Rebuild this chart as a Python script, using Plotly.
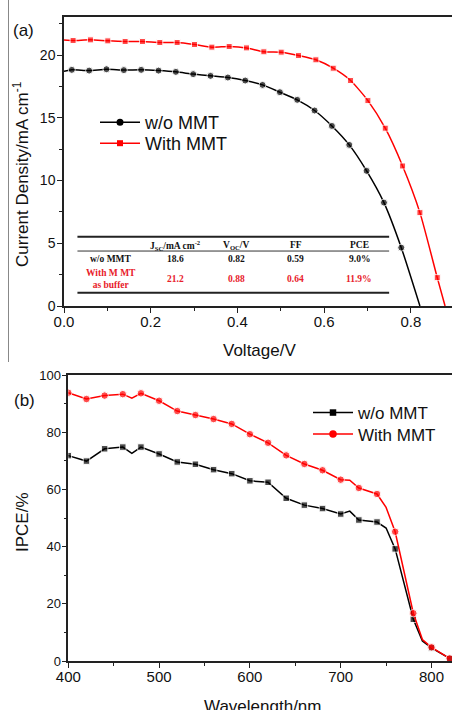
import plotly.graph_objects as go

W, H = 452, 710

# ---------------- data: panel (a) J-V ----------------
v_a_black = [0.000, 0.018, 0.058, 0.098, 0.138, 0.178, 0.218, 0.258, 0.298, 0.338, 0.378,
             0.418, 0.458, 0.498, 0.538, 0.578, 0.618, 0.658, 0.698, 0.738, 0.778, 0.821]
j_a_black = [18.70, 18.82, 18.76, 18.87, 18.80, 18.82, 18.76, 18.66, 18.48, 18.34, 18.21,
             17.97, 17.62, 17.04, 16.43, 15.58, 14.35, 12.84, 10.77, 8.24, 4.65, 0.00]
v_a_red = [0.000, 0.021, 0.061, 0.101, 0.141, 0.181, 0.221, 0.261, 0.301, 0.341, 0.381, 0.421,
           0.461, 0.501, 0.541, 0.581, 0.621, 0.661, 0.701, 0.741, 0.781, 0.821, 0.861, 0.879]
j_a_red = [21.20, 21.16, 21.21, 21.13, 21.08, 21.08, 21.00, 21.00, 20.84, 20.63, 20.68, 20.57,
           20.26, 20.23, 19.96, 19.62, 18.95, 17.97, 16.37, 14.17, 11.16, 7.44, 2.26, 0.00]

# table in panel (a)
tbl_header = ["J<sub>SC</sub>/mA cm<sup>-2</sup>", "V<sub>OC</sub>/V", "FF", "PCE"]
tbl_row1 = ["w/o MMT", "18.6", "0.82", "0.59", "9.0%"]
tbl_row2 = ["With M MT<br>as buffer", "21.2", "0.88", "0.64", "11.9%"]

# ---------------- data: panel (b) IPCE ----------------
wl_black = [400, 420, 440, 460, 470, 480, 500, 520, 540, 560, 580, 600, 620, 640, 660, 680,
            700, 710, 720, 740, 750, 760, 780, 790, 800, 820]
ipce_black = [71.8, 69.9, 74.2, 74.8, 72.6, 74.8, 72.4, 69.6, 68.8, 66.9, 65.5, 63.0, 62.5, 56.9,
              54.5, 53.3, 51.4, 52.4, 49.3, 48.6, 46.5, 39.2, 14.6, 7.0, 4.6, 0.9]
wl_red = [400, 420, 440, 460, 470, 480, 500, 520, 540, 560, 580, 600, 620, 640, 660, 680,
          700, 710, 720, 740, 750, 760, 780, 790, 800, 820]
ipce_red = [93.8, 91.6, 92.8, 93.3, 91.9, 93.6, 91.0, 87.4, 86.0, 84.6, 82.9, 79.3, 76.3, 71.9,
            68.9, 66.7, 63.4, 63.2, 60.5, 58.4, 53.7, 45.2, 16.7, 7.5, 4.8, 0.9]
no_marker_wl = [470, 710, 750, 790]

series_names = ["w/o MMT", "With MMT"]


def px(x):
    return x / W


def py(y):
    return 1 - y / H


RED = "#ff0000"
BLK = "#000000"
AX = "#222222"
SANS = "Liberation Sans, Arial, sans-serif"
SERIF = "Liberation Serif, Times New Roman, serif"

fig = go.Figure()

# ---- panel (a) ----
MS_AB, MS_AR = 7, 6
sz_b = [0] + [MS_AB] * (len(v_a_black) - 2) + [0]
sz_r = [0] + [MS_AR] * (len(v_a_red) - 2) + [0]
fig.add_trace(go.Scatter(x=v_a_black, y=j_a_black, mode="lines+markers", showlegend=False,
                         line=dict(color=BLK, width=1.5, shape="spline", smoothing=0.6),
                         marker=dict(symbol="circle", size=sz_b, color=BLK),
                         xaxis="x", yaxis="y"))
fig.add_trace(go.Scatter(x=v_a_red, y=j_a_red, mode="lines+markers", showlegend=False,
                         line=dict(color=RED, width=1.5, shape="spline", smoothing=0.6),
                         marker=dict(symbol="square", size=sz_r, color=RED),
                         xaxis="x", yaxis="y"))
# legend entries (a)
fig.add_trace(go.Scatter(x=[None], y=[None], mode="lines+markers", name=series_names[0],
                         line=dict(color=BLK, width=1.5), marker=dict(symbol="circle", size=MS_AB, color=BLK),
                         xaxis="x", yaxis="y", legend="legend"))
fig.add_trace(go.Scatter(x=[None], y=[None], mode="lines+markers", name=series_names[1],
                         line=dict(color=RED, width=1.5), marker=dict(symbol="square", size=MS_AR, color=RED),
                         xaxis="x", yaxis="y", legend="legend2"))

# ---- panel (b) ----
MS_BB, MS_BR = 6.5, 7.5
szb2 = [0 if w in no_marker_wl else MS_BB for w in wl_black]
szr2 = [0 if w in no_marker_wl else MS_BR for w in wl_red]
fig.add_trace(go.Scatter(x=wl_black, y=ipce_black, mode="lines+markers", showlegend=False,
                         line=dict(color=BLK, width=1.5),
                         marker=dict(symbol="square", size=szb2, color=BLK),
                         xaxis="x2", yaxis="y2"))
fig.add_trace(go.Scatter(x=wl_red, y=ipce_red, mode="lines+markers", showlegend=False,
                         line=dict(color=RED, width=1.5),
                         marker=dict(symbol="circle", size=szr2, color=RED),
                         xaxis="x2", yaxis="y2"))
fig.add_trace(go.Scatter(x=[None], y=[None], mode="lines+markers", name=series_names[0],
                         line=dict(color=BLK, width=1.5), marker=dict(symbol="square", size=MS_BB, color=BLK),
                         xaxis="x2", yaxis="y2", legend="legend3"))
fig.add_trace(go.Scatter(x=[None], y=[None], mode="lines+markers", name=series_names[1],
                         line=dict(color=RED, width=1.5), marker=dict(symbol="circle", size=MS_BR, color=RED),
                         xaxis="x2", yaxis="y2", legend="legend4"))

axis_common = dict(showline=True, linecolor=AX, linewidth=1.5, ticks="outside", ticklen=5,
                   tickwidth=1.2, tickcolor=AX, showgrid=False, zeroline=False,
                   automargin=False)
minor_common = dict(ticks="outside", ticklen=3, tickcolor=AX, tickwidth=1.2)


def leg(xp, top, size):
    return dict(x=px(xp), y=py(top), xanchor="left", yanchor="top", bgcolor="rgba(0,0,0,0)",
                font=dict(size=size, family=SANS, color="#111111"), itemwidth=40)


fig.update_layout(
    width=W, height=H, margin=dict(l=0, r=0, t=0, b=0),
    paper_bgcolor="white", plot_bgcolor="white",
    font=dict(family=SANS, color="#111111"),
    xaxis=dict(domain=[px(64), 1], range=[0, 0.895], anchor="y", mirror=True,
               tickvals=[0, 0.2, 0.4, 0.6, 0.8], ticktext=["0.0", "0.2", "0.4", "0.6", "0.8"],
               tickfont=dict(size=15), ticklabelstandoff=-4,
               minor=dict(dtick=0.1, **minor_common), **axis_common),
    yaxis=dict(domain=[py(306), py(17.4)], range=[0, 23], anchor="x",
               tickvals=[0, 5, 10, 15, 20], tickfont=dict(size=14), ticklabelstandoff=-1,
               minor=dict(dtick=2.5, **minor_common), **axis_common),
    xaxis2=dict(domain=[px(68.3), 1], range=[400, 822.6], anchor="y2", mirror=True,
                tickvals=[400, 500, 600, 700, 800], tickfont=dict(size=15), ticklabelstandoff=-4,
                minor=dict(dtick=50, **minor_common), **axis_common),
    yaxis2=dict(domain=[py(661), py(375)], range=[0, 100], anchor="x2",
                tickvals=[0, 20, 40, 60, 80, 100], tickfont=dict(size=13), ticklabelstandoff=-2,
                minor=dict(dtick=10, **minor_common), **axis_common),
    legend=leg(95, 104, 18),
    legend2=leg(95, 125, 18),
    legend3=leg(308, 395, 17),
    legend4=leg(308, 416.5, 17),
    showlegend=True,
)

# annotations: titles and panel labels
ann = []
ann.append(dict(text="Voltage/V", x=px(259), y=py(350), xref="paper", yref="paper",
                showarrow=False, font=dict(size=17), xanchor="center", yanchor="middle"))
ann.append(dict(text="Current Density/mA cm<sup>-1</sup>", x=px(21), y=py(174), xref="paper",
                yref="paper", showarrow=False, font=dict(size=17), textangle=-90,
                xanchor="center", yanchor="middle"))
ann.append(dict(text="Wavelength/nm", x=px(262), y=py(695), xref="paper", yref="paper",
                showarrow=False, font=dict(size=17), xanchor="center", yanchor="top"))
ann.append(dict(text="IPCE/%", x=px(22), y=py(522), xref="paper", yref="paper",
                showarrow=False, font=dict(size=17), textangle=-90,
                xanchor="center", yanchor="middle"))
ann.append(dict(text="(a)", x=px(23), y=py(31), xref="paper", yref="paper",
                showarrow=False, font=dict(size=17), xanchor="center", yanchor="middle"))
ann.append(dict(text="(b)", x=px(24), y=py(400), xref="paper", yref="paper",
                showarrow=False, font=dict(size=17), xanchor="center", yanchor="middle"))

# table (in panel (a) data coordinates)
col_x = [0.108, 0.258, 0.397, 0.535, 0.681]
for cx, t in zip(col_x[1:], tbl_header):
    ann.append(dict(text="<b>" + t + "</b>", x=cx, y=4.86, xref="x", yref="y", showarrow=False,
                    font=dict(size=9.5, family=SERIF, color="#111111")))
for cx, t in zip(col_x, tbl_row1):
    ann.append(dict(text="<b>" + t + "</b>", x=cx, y=3.75, xref="x", yref="y", showarrow=False,
                    font=dict(size=9.5, family=SERIF, color="#111111")))
for cx, t in zip(col_x, tbl_row2):
    ann.append(dict(text="<b>" + t + "</b>", x=cx, y=2.15, xref="x", yref="y", showarrow=False,
                    font=dict(size=9.5, family=SERIF, color="#e8202a")))
fig.update_layout(annotations=ann)

shapes = [
    dict(type="line", xref="x", yref="y", x0=0.031, x1=0.75, y0=5.52, y1=5.52,
         line=dict(color="#222222", width=2)),
    dict(type="line", xref="x", yref="y", x0=0.031, x1=0.75, y0=4.38, y1=4.38,
         line=dict(color="#333333", width=1)),
    dict(type="line", xref="x", yref="y", x0=0.031, x1=0.75, y0=1.06, y1=1.06,
         line=dict(color="#222222", width=2)),
    # frame edge of panel (a)
    dict(type="line", xref="paper", yref="paper", x0=px(8.5), x1=px(8.5), y0=py(0), y1=py(362),
         line=dict(color="#888888", width=1)),
]
fig.update_layout(shapes=shapes)

fig.write_html("out.html")
